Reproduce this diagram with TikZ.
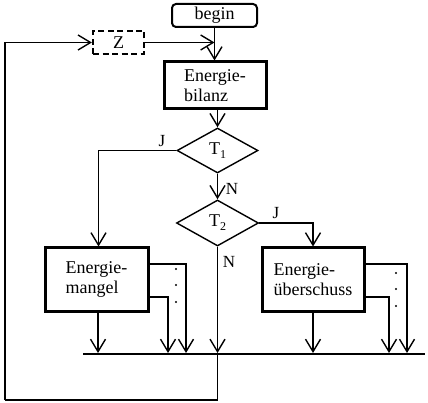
\documentclass[tikz,border=0pt]{standalone}
\usepackage{fontspec}
\setmainfont{Liberation Serif}
\usetikzlibrary{shapes.geometric,arrows.meta}
\newcommand{\subone}[1]{{\fontsize{12}{12}\selectfont\raisebox{-4pt}{#1}}}
\begin{document}
\begin{tikzpicture}[x=1pt,y=-1pt,
  every node/.style={font=\fontsize{18}{20.5}\selectfont},
  line/.style={line width=1.4pt},
  arr/.style={line width=1.4pt,-{Straight Barb[length=12.5pt,width=15pt,line width=1.4pt]}},
  startbox/.style={draw,rounded corners=4pt,line width=2pt,minimum width=85pt,minimum height=23pt,inner sep=0pt},
  zbox/.style={draw,line width=2.2pt,dash pattern=on 6pt off 3.5pt,minimum width=51pt,minimum height=23pt,inner sep=0pt},
  proc/.style={draw,line width=3pt,align=left,inner sep=0pt},
  dia/.style={draw,diamond,line width=1.4pt,inner sep=0pt,minimum width=81pt,minimum height=45pt},
  lab/.style={font=\fontsize{17}{17}\selectfont,inner sep=0pt},
  dot/.style={fill,circle,inner sep=0pt,minimum size=2.2pt}
]
\useasboundingbox (0,0) rectangle (428,403);

\node[startbox] (begin) at (214.5,15.5) {begin};
\node[zbox] (z) at (118.5,42.5) {Z};
\node[proc,minimum width=102pt,minimum height=47pt] (bil) at (215,85.5) {Energie-\\bilanz};
\node[dia] (t1) at (217.5,150.5) {T\subone{1}};
\node[dia,minimum width=82pt,minimum height=46pt] (t2) at (217.5,223) {T\subone{2}};
\node[proc,minimum width=103pt,minimum height=63pt] (mangel) at (96.5,279.5) {Energie-\\mangel};
\node[proc,minimum width=102pt,minimum height=63pt] (ueber) at (313,279.5) {Energie-\\überschuss};

\node[lab] (j1) at (162,141) {J};
\node[lab] (n1) at (232,189) {N};
\node[lab] (j2) at (276,213) {J};
\node[lab] (n2) at (229,262) {N};

\coordinate (busl) at (83,354);
\coordinate (busr) at (425,354);
\coordinate (m1) at (186,353);
\coordinate (m2) at (168,353);
\coordinate (u1) at (407,353);
\coordinate (u2) at (389,353);
\coordinate (lb) at (5,400);
\coordinate (jn) at (217.5,354);

% top
\draw[arr] (begin.south) -- (begin.south |- bil.north);
\draw[arr] (z.east) -- (z.east -| begin.south);
\draw[arr] (bil.south -| t1.north) -- (t1.north);
\draw[arr] (t1.south) -- (t2.north);
\draw[arr] (t1.west) -| ([xshift=2pt]mangel.north);
\draw[arr] (t2.east) -| (ueber.north);
\draw[arr] (t2.south) -- ([yshift=1pt]jn);

% bus
\draw[line] (busl) -- (busr);

% Energiemangel outputs
\draw[arr] ([xshift=1.5pt]mangel.south) -- ([xshift=1.5pt,yshift=1pt]mangel.south |- busl);
\draw[arr] ([yshift=15.5pt]mangel.east) -| (m1);
\draw[arr] ([yshift=-17.5pt]mangel.east) -| (m2);
\node[dot] (md1) at (176,269) {};
\node[dot] (md2) at (176,285) {};
\node[dot] (md3) at (176,302) {};

% Energieueberschuss outputs
\draw[arr] (ueber.south) -- ([yshift=1pt]ueber.south |- busl);
\draw[arr] ([yshift=15.5pt]ueber.east) -| (u1);
\draw[arr] ([yshift=-17.5pt]ueber.east) -| (u2);
\node[dot] (ud1) at (396,273) {};
\node[dot] (ud2) at (396,289) {};
\node[dot] (ud3) at (396,306) {};

% loop back
\draw[line] (jn) |- (lb);
\draw[arr] (lb) |- (z.west);
\end{tikzpicture}
\end{document}
